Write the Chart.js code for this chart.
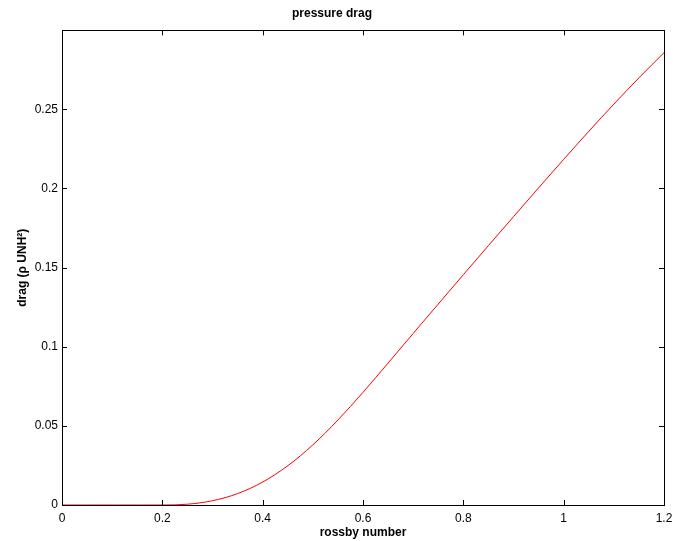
<!DOCTYPE html>
<html>
<head>
<meta charset="utf-8">
<script src="https://cdn.jsdelivr.net/npm/chart.js@4"></script>
<style>
  html, body { margin: 0; padding: 0; background: #fff; }
  #wrap { width: 673px; height: 541px; }
</style>
</head>
<body>
<div id="wrap"><canvas id="chart" width="673" height="541"></canvas></div>
<script>
// rossby number samples and drag
const rossby = [0, 0.05, 0.1, 0.15, 0.2, 0.25, 0.3, 0.35, 0.4, 0.45, 0.5, 0.55, 0.6,
                0.65, 0.7, 0.75, 0.8, 0.85, 0.9, 0.95, 1.0, 1.05, 1.1, 1.15, 1.2];
const drag = [0, 0, 0, 0, 0, 0.0005, 0.0027, 0.0072, 0.0145, 0.0248, 0.0380, 0.0537, 0.0712,
              0.0897, 0.1084, 0.1270, 0.1455, 0.1639, 0.1822, 0.2004, 0.2184, 0.2361, 0.2533, 0.2699, 0.2858];
const xTicks = [0, 0.2, 0.4, 0.6, 0.8, 1, 1.2];
const yTicks = [0, 0.05, 0.1, 0.15, 0.2, 0.25];

const FONT = "'Liberation Sans', Arial, Helvetica, sans-serif";

// MATLAB style box with inward ticks on all four sides
const boxTicks = {
    id: "boxTicks",
    afterDraw(chart) {
        const { ctx, chartArea: a, scales } = chart;
        const len = 5;
        ctx.save();
        ctx.strokeStyle = "#000";
        ctx.lineWidth = 1;
        ctx.beginPath();
        xTicks.forEach(v => {
            const px = Math.round(scales.x.getPixelForValue(v)) + 0.5;
            ctx.moveTo(px, a.bottom); ctx.lineTo(px, a.bottom - len);
            ctx.moveTo(px, a.top); ctx.lineTo(px, a.top + len);
        });
        yTicks.forEach(v => {
            const py = Math.round(scales.y.getPixelForValue(v)) + 0.5;
            ctx.moveTo(a.left, py); ctx.lineTo(a.left + len, py);
            ctx.moveTo(a.right, py); ctx.lineTo(a.right - len, py);
        });
        ctx.stroke();
        ctx.strokeRect(Math.round(a.left) + 0.5, Math.round(a.top) + 0.5,
                       Math.round(a.right - a.left), Math.round(a.bottom - a.top));
        ctx.restore();
    }
};

new Chart(document.getElementById("chart"), {
    type: "line",
    data: {
        datasets: [{
            data: rossby.map((x, i) => ({ x, y: drag[i] })),
            borderColor: "#ff0000",
            borderWidth: 1,
            pointRadius: 0,
            fill: false,
            cubicInterpolationMode: "monotone",
        }]
    },
    options: {
        responsive: false,
        animation: false,
        layout: { padding: { left: 0, right: 9, top: 0, bottom: 0 } },
        plugins: {
            legend: { display: false },
            tooltip: { enabled: false },
            title: {
                display: true,
                text: "pressure drag",
                color: "#000",
                font: { family: FONT, size: 12, weight: "bold" },
                padding: { top: 6, bottom: 10 }
            }
        },
        scales: {
            x: {
                type: "linear",
                min: 0, max: 1.2,
                afterFit: s => { s.height = 36; s.paddingLeft = 0; s.paddingRight = 0; },
                afterBuildTicks: s => { s.ticks = xTicks.map(v => ({ value: v })); },
                grid: { display: false, drawTicks: false },
                border: { display: false },
                ticks: {
                    color: "#000", padding: 6,
                    font: { family: FONT, size: 12 },
                    callback: v => String(+v.toFixed(2))
                },
                title: {
                    display: true, text: "rossby number", color: "#000",
                    font: { family: FONT, size: 12, weight: "bold" },
                    padding: { top: 0, bottom: 1 }
                }
            },
            y: {
                min: 0, max: 0.2999,
                afterFit: s => { s.width = 62; s.paddingTop = 0; s.paddingBottom = 0; },
                afterBuildTicks: s => { s.ticks = yTicks.map(v => ({ value: v })); },
                grid: { display: false, drawTicks: false },
                border: { display: false },
                ticks: {
                    color: "#000", padding: 4,
                    font: { family: FONT, size: 12 },
                    callback: v => String(+v.toFixed(2))
                },
                title: {
                    display: true, text: "drag (ρ UNH²)", color: "#000",
                    font: { family: FONT, size: 12, weight: "bold" },
                    padding: { top: 15, bottom: 0 }
                }
            }
        }
    },
    plugins: [boxTicks]
});
</script>
</body>
</html>
